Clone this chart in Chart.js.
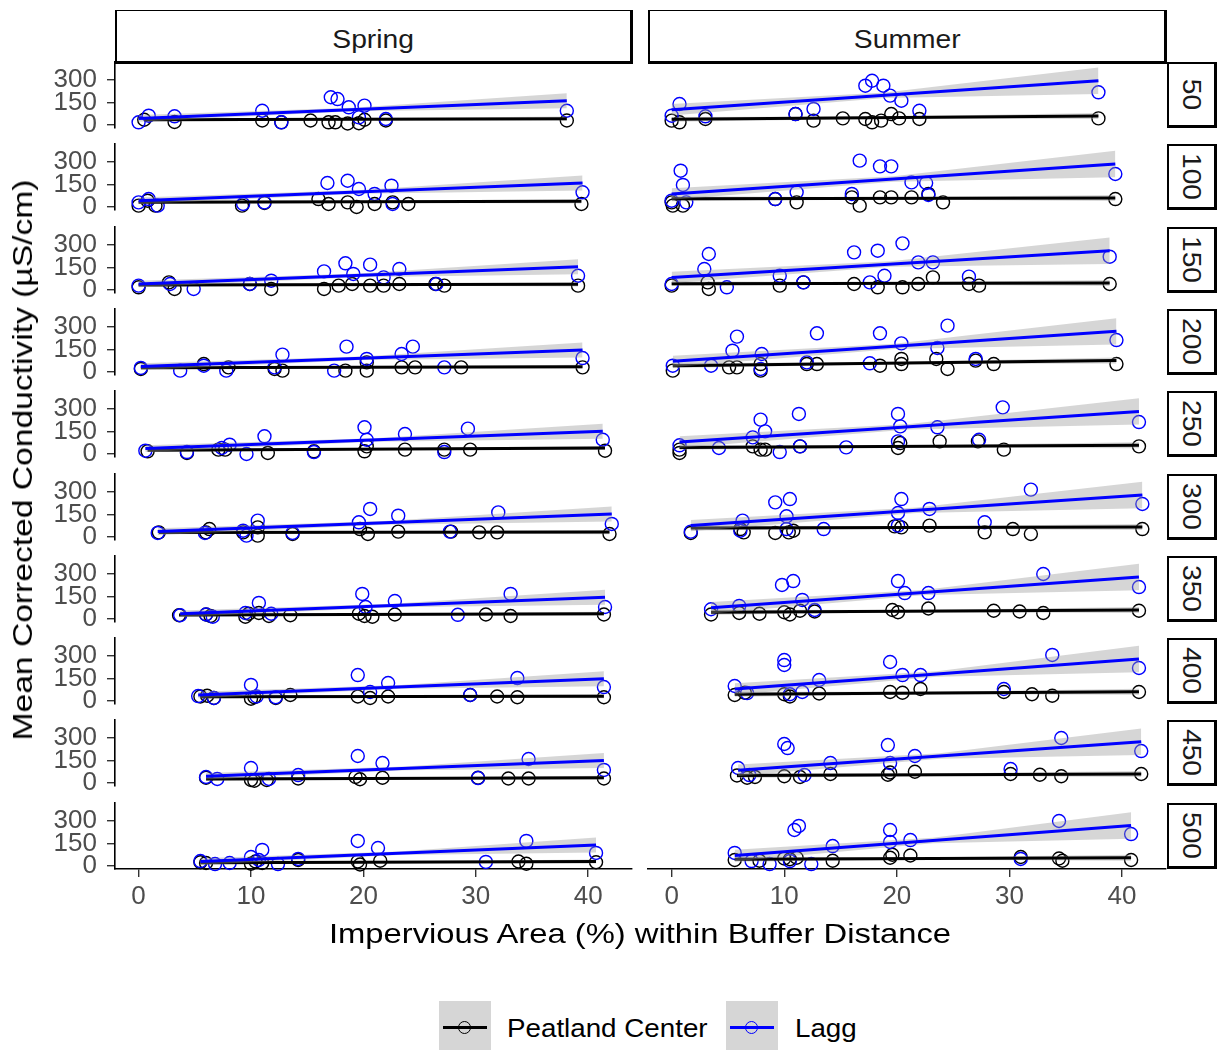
<!DOCTYPE html>
<html>
<head>
<meta charset="utf-8">
<title>Conductivity vs impervious area</title>
<script src="https://cdn.jsdelivr.net/npm/chart.js@4.4.1/dist/chart.umd.min.js"></script>
<style>
  body { margin: 0; background: #fff; }
  #wrap { position: relative; width: 1225px; height: 1050px; overflow: hidden; background: #fff;
          font-family: 'Liberation Sans', Arial, sans-serif; }
  #wrap canvas { position: absolute; }
  .strip { position: absolute; box-sizing: border-box; background: #fff;
           border: 2px solid #000; border-right-width: 3px; border-bottom-width: 3px;
           display: flex; align-items: center; justify-content: center; color: #1a1a1a; font-size: 25px; }
  .strip.top { padding-top: 7px; border-top-width: 1.5px; }
  .strip span { display: inline-block; white-space: nowrap; transform: scaleX(1.13); }
  .strip.side span { transform: rotate(90deg) scaleX(1.13); }
  .title { position: absolute; white-space: nowrap; color: #000; font-size: 28px; }
  .key { position: absolute; width: 52px; height: 52px; background: #d6d6d6; }
  .key .ln { position: absolute; left: 4px; right: 4px; top: 25px; height: 3px; }
  .key .pt { position: absolute; left: 19px; top: 20px; width: 11px; height: 11px; border-radius: 50%;
             border: 1.4px solid; background: transparent; }
  .keytxt { position: absolute; font-size: 25px; color: #000; white-space: nowrap;
            transform-origin: left center; transform: scaleX(1.11); line-height: 30px; }
</style>
</head>
<body>
<div id="wrap"></div>
<script>
const seasons = ['Spring', 'Summer'];
const buffers = ['50', '100', '150', '200', '250', '300', '350', '400', '450', '500'];
const sites = ['Peatland Center', 'Lagg'];
const xTicks = [0, 10, 20, 30, 40];
const yTicks = [0, 150, 300];

// impervious area (%) per buffer distance, one row per buffer
const springCenterX = [
  [0.5, 3.2, 11.0, 12.7, 15.3, 16.9, 17.5, 18.6, 19.6, 20.1, 22.0, 38.1],
  [0, 0.8, 1.5, 9.2, 11.2, 16.0, 16.9, 18.6, 19.4, 21.0, 22.6, 24.0, 39.4],
  [0, 2.7, 3.2, 9.9, 11.8, 16.5, 17.8, 19.0, 20.6, 21.8, 23.2, 26.4, 27.2, 39.1],
  [0.2, 5.8, 8.0, 12.1, 12.8, 18.4, 20.3, 20.3, 23.4, 24.6, 28.7, 39.5],
  [0.8, 4.3, 7.1, 7.7, 11.5, 15.6, 20.1, 20.3, 23.7, 27.2, 29.5, 41.5],
  [1.8, 6.0, 6.3, 9.3, 10.6, 10.6, 13.7, 19.7, 20.4, 23.1, 27.8, 30.3, 31.9, 41.9],
  [3.6, 6.0, 6.4, 9.5, 9.8, 10.7, 11.6, 13.5, 19.6, 20.1, 20.8, 22.8, 30.9, 33.1, 41.4],
  [5.5, 6.1, 6.7, 10.0, 10.3, 12.2, 13.5, 19.5, 20.6, 22.2, 29.5, 31.9, 33.7, 41.4],
  [6.0, 10.0, 10.3, 11.4, 14.2, 19.3, 19.7, 21.7, 30.2, 32.9, 34.7, 41.4],
  [5.5, 6.0, 10.0, 10.4, 11.0, 14.2, 19.5, 19.7, 21.5, 33.8, 34.5, 40.7]
];
const springCenterY = [
  [35, 20, 30, 18, 30, 18, 18, 10, 12, 35, 30, 30],
  [9, 42, 9, 9, 27, 53, 20, 31, 0, 20, 31, 20, 20],
  [18, 51, 7, 40, 7, 7, 29, 40, 29, 29, 40, 40, 29, 29],
  [20, 53, 31, 20, 9, 9, 64, 9, 31, 31, 31, 31],
  [18, 7, 29, 29, 7, 18, 18, 51, 29, 29, 29, 22],
  [31, 31, 53, 31, 9, 64, 20, 53, 20, 36, 36, 31, 31, 20],
  [25, 30, 20, 15, 35, 40, 20, 25, 35, 20, 15, 30, 30, 20, 30],
  [30, 35, 20, 15, 25, 20, 40, 30, 20, 30, 40, 30, 25, 25],
  [35, 20, 15, 20, 30, 40, 25, 35, 35, 30, 30, 30],
  [25, 20, 15, 30, 20, 40, 30, 10, 35, 30, 15, 25]
];
const springLaggX = [
  [0, 0.9, 3.2, 11.0, 12.7, 17.1, 17.7, 18.7, 19.6, 20.1, 22.0, 38.1],
  [0, 0.9, 1.7, 9.3, 11.2, 16.8, 18.6, 19.6, 21.0, 22.5, 22.6, 39.5],
  [0, 2.8, 4.9, 9.9, 11.8, 16.5, 18.4, 19.1, 20.6, 21.8, 23.2, 26.5, 39.1],
  [0.2, 3.7, 5.8, 7.8, 12.1, 12.8, 17.4, 18.5, 20.3, 23.4, 24.4, 27.2, 39.5],
  [0.6, 4.3, 7.4, 8.1, 9.6, 11.2, 15.6, 20.1, 20.3, 23.7, 27.2, 29.3, 41.3],
  [1.7, 5.9, 9.3, 9.6, 10.6, 13.7, 19.6, 20.6, 23.1, 27.7, 32.0, 42.1],
  [3.7, 6.0, 6.6, 9.5, 10.7, 11.8, 19.9, 20.2, 22.8, 28.4, 33.1, 41.5],
  [5.3, 6.7, 10.0, 10.5, 12.2, 19.5, 20.6, 22.2, 29.5, 33.7, 41.4],
  [6.0, 7.0, 10.0, 11.6, 14.2, 19.5, 21.7, 30.2, 34.7, 41.4],
  [5.5, 6.8, 8.1, 10.0, 10.7, 11.0, 12.4, 14.2, 19.5, 21.3, 30.9, 34.5, 40.7]
];
const springLaggY = [
  [18, 62, 58, 95, 18, 185, 173, 118, 51, 129, 40, 95],
  [31, 53, 9, 20, 31, 160, 175, 120, 87, 142, 20, 98],
  [29, 40, 7, 40, 62, 124, 178, 107, 169, 84, 140, 40, 95],
  [27, 9, 42, 9, 31, 116, 9, 169, 87, 120, 169, 31, 93],
  [22, 13, 40, 62, 0, 118, 13, 178, 95, 133, 13, 169, 95],
  [27, 27, 42, 9, 109, 27, 98, 187, 142, 36, 164, 87],
  [25, 30, 15, 40, 107, 35, 167, 80, 120, 28, 167, 80],
  [33, 20, 107, 30, 25, 173, 60, 120, 40, 153, 93],
  [40, 27, 100, 27, 53, 180, 133, 33, 160, 87],
  [33, 13, 20, 60, 40, 107, 13, 47, 167, 120, 27, 167, 87]
];
const summerCenterX = [
  [0, 0.7, 3.0, 11.0, 12.6, 15.2, 17.2, 17.8, 18.6, 19.5, 20.2, 22.0, 37.9],
  [0, 0.1, 1.0, 9.2, 11.1, 16.0, 16.7, 18.5, 19.5, 21.3, 22.8, 24.1, 39.4],
  [0, 3.2, 3.3, 9.6, 11.7, 16.2, 18.3, 20.5, 21.9, 23.2, 26.4, 27.3, 38.9],
  [0.1, 5.1, 5.8, 7.9, 7.9, 12.0, 12.9, 18.5, 20.4, 20.4, 23.5, 24.5, 27.0, 28.6, 39.5],
  [0.7, 0.7, 7.2, 7.9, 8.3, 11.4, 20.1, 20.3, 23.8, 27.2, 29.5, 41.5],
  [1.7, 6.1, 6.4, 9.2, 10.4, 10.8, 19.8, 20.4, 22.9, 27.8, 30.3, 31.9, 41.8],
  [3.5, 6.0, 7.8, 10.0, 10.5, 11.4, 12.7, 19.6, 20.1, 22.8, 28.6, 30.9, 33.0, 41.5],
  [5.6, 6.5, 10.0, 10.5, 13.1, 19.4, 20.5, 22.1, 29.5, 32.0, 33.8, 41.5],
  [5.8, 6.7, 7.4, 10.0, 11.4, 14.1, 19.2, 19.4, 21.6, 30.1, 32.7, 34.6, 41.7],
  [5.6, 7.8, 10.0, 10.5, 11.1, 14.3, 19.4, 19.6, 21.2, 31.0, 34.4, 34.7, 40.8]
];
const summerCenterY = [
  [29, 18, 40, 73, 29, 44, 40, 18, 29, 73, 44, 40, 44],
  [31, 9, 9, 53, 31, 64, 9, 64, 64, 64, 87, 31, 53],
  [29, 51, 7, 29, 51, 40, 18, 18, 40, 84, 40, 29, 40],
  [9, 31, 31, 53, 9, 53, 53, 42, 87, 53, 87, 20, 76, 53, 53],
  [29, 7, 51, 29, 29, 51, 40, 73, 84, 84, 29, 51],
  [27, 53, 31, 27, 31, 42, 71, 64, 76, 31, 53, 20, 53],
  [30, 40, 35, 45, 30, 55, 50, 60, 45, 70, 55, 50, 40, 55],
  [40, 55, 45, 30, 50, 60, 55, 80, 60, 45, 35, 60],
  [50, 35, 40, 45, 40, 60, 55, 70, 75, 60, 55, 45, 60],
  [40, 35, 50, 45, 55, 35, 55, 75, 70, 60, 50, 35, 40]
];
const summerLaggX = [
  [0, 0.7, 3.0, 11.0, 12.6, 17.2, 17.8, 18.8, 19.4, 20.4, 22.0, 37.9],
  [0, 0.8, 1.0, 1.3, 9.2, 11.1, 16.0, 16.7, 18.5, 19.5, 21.3, 22.6, 22.8, 39.4],
  [0, 2.9, 3.3, 4.9, 9.6, 11.7, 16.2, 17.6, 18.3, 18.9, 20.5, 21.9, 23.2, 26.4, 38.9],
  [0.1, 3.5, 5.4, 5.8, 7.9, 8.0, 12.0, 12.9, 17.6, 18.5, 20.4, 23.6, 24.5, 27.0, 39.5],
  [0.7, 4.2, 7.2, 7.9, 8.3, 9.6, 11.3, 11.4, 15.5, 20.1, 20.3, 20.1, 23.6, 27.3, 29.4, 41.5],
  [1.7, 6.3, 6.1, 9.2, 10.5, 10.2, 10.2, 13.5, 20.4, 20.1, 20.1, 22.9, 27.8, 31.9, 41.8],
  [3.5, 6.0, 9.8, 10.8, 11.6, 12.7, 20.1, 20.7, 22.8, 33.0, 41.5],
  [5.6, 6.7, 10.0, 10.0, 10.5, 11.6, 13.1, 19.4, 20.5, 22.1, 29.5, 33.8, 41.5],
  [5.9, 6.9, 10.0, 10.3, 11.8, 14.1, 19.2, 19.4, 21.6, 30.1, 34.6, 41.7],
  [5.6, 7.1, 8.7, 10.5, 10.9, 11.3, 12.4, 14.3, 19.4, 19.4, 21.2, 31.0, 34.4, 40.8]
];
const summerLaggY = [
  [62, 140, 58, 73, 107, 262, 295, 262, 196, 162, 95, 218],
  [42, 242, 147, 31, 53, 98, 87, 309, 271, 271, 164, 160, 80, 220],
  [40, 140, 240, 18, 95, 51, 251, 51, 262, 95, 311, 184, 184, 89, 222],
  [42, 42, 142, 236, 20, 120, 64, 258, 58, 258, 191, 160, 309, 87, 213],
  [58, 40, 111, 229, 151, 13, 267, 51, 44, 267, 184, 84, 178, 95, 311, 213],
  [36, 109, 42, 231, 253, 138, 53, 53, 253, 160, 76, 187, 98, 316, 220],
  [65, 87, 227, 253, 127, 60, 253, 173, 173, 300, 213],
  [100, 53, 273, 240, 45, 60, 140, 260, 173, 173, 80, 307, 220],
  [100, 53, 260, 233, 53, 133, 253, 133, 180, 93, 300, 213],
  [87, 33, 13, 33, 240, 267, 13, 133, 240, 160, 173, 47, 300, 213]
];

// fitted trend: value at the lowest and highest impervious area of each group
const springCenterFit = [[35, 42], [32, 38], [33, 38], [28, 35], [25, 40], [30, 33], [27, 35], [28, 32], [27, 35], [22, 30]];
const springLaggFit = [[44, 162], [42, 160], [40, 155], [36, 147], [36, 151], [36, 153], [35, 145], [40, 148], [45, 150], [30, 140]];
const summerCenterFit = [[38, 60], [55, 60], [42, 46], [42, 76], [44, 58], [60, 66], [45, 60], [45, 62], [50, 60], [45, 55]];
const summerLaggFit = [[102, 295], [87, 287], [84, 262], [71, 271], [80, 284], [76, 280], [75, 280], [80, 280], [85, 275], [70, 270]];

// half width of the confidence band at the start, middle and end of each fit
const springCenterBand = [12, 6, 14];
const springLaggBand = [22, 12, 50];
const summerCenterBand = [16, 8, 20];
const summerLaggBand = [38, 18, 88];

const FONT = "'Liberation Sans', Arial, sans-serif";
const PLOT_TOP = 62, ROW_STEP = 82.3, PLOT_H = 66;
const colLeft = [115, 648], colWidth = [517, 518];
const PAD = 14, Y_AXIS_W = 75, X_AXIS_H = 45;
const BAND = 'rgba(153,153,153,0.4)';

const groups = {
  Spring: [
    { x: springCenterX, y: springCenterY, fit: springCenterFit, band: springCenterBand, color: '#000000' },
    { x: springLaggX, y: springLaggY, fit: springLaggFit, band: springLaggBand, color: '#0000ff' }
  ],
  Summer: [
    { x: summerCenterX, y: summerCenterY, fit: summerCenterFit, band: summerCenterBand, color: '#000000' },
    { x: summerLaggX, y: summerLaggY, fit: summerLaggFit, band: summerLaggBand, color: '#0000ff' }
  ]
};

function points(g, r) {
  return g.x[r].map((x, i) => ({ x: x, y: g.y[r][i] }));
}
function fitLine(g, r) {
  const x0 = Math.min(...g.x[r]), x1 = Math.max(...g.x[r]);
  return [{ x: x0, y: g.fit[r][0] }, { x: x1, y: g.fit[r][1] }];
}
function bandEdge(g, r, sign) {
  const [a, b] = fitLine(g, r);
  const mx = (a.x + b.x) / 2, my = (a.y + b.y) / 2;
  return [
    { x: a.x, y: a.y + sign * g.band[0] },
    { x: mx, y: my + sign * g.band[1] },
    { x: b.x, y: b.y + sign * g.band[2] }
  ];
}

function panelDatasets(season, r) {
  const [center, lagg] = groups[season];
  const line = (g) => ({ data: fitLine(g, r), borderColor: g.color, borderWidth: 3, pointRadius: 0, fill: false });
  const edge = (g, sign, fillTo) => ({ data: bandEdge(g, r, sign), borderWidth: 0, borderColor: 'rgba(0,0,0,0)',
                                       backgroundColor: BAND, pointRadius: 0, fill: fillTo });
  const dots = (g) => ({ data: points(g, r), showLine: false, clip: false, pointRadius: 6.5, pointBorderWidth: 1.4,
                         pointBorderColor: g.color, pointBackgroundColor: 'rgba(0,0,0,0)', borderColor: g.color });
  // index 0 is painted last, so the Lagg fit ends up on top
  return [
    line(lagg), edge(lagg, 1, 2), edge(lagg, -1, false),
    line(center), edge(center, 1, 5), edge(center, -1, false),
    dots(lagg), dots(center)
  ];
}

const wrap = document.getElementById('wrap');

function axisStyle() {
  return {
    border: { display: true, color: '#000', width: 1.6 },
    grid: { drawOnChartArea: false, drawTicks: true, tickLength: 8, color: '#333', lineWidth: 1.4 },
    ticks: { autoSkip: false, maxRotation: 0, color: '#4d4d4d', font: { family: FONT, size: 26 } }
  };
}

seasons.forEach((season, c) => {
  buffers.forEach((buf, r) => {
    const top = Math.round(PLOT_TOP + ROW_STEP * r);
    const showY = c === 0;
    const showX = r === buffers.length - 1;
    const cv = document.createElement('canvas');
    cv.width = colWidth[c] + (showY ? Y_AXIS_W : 0) + 2 * PAD;
    cv.height = PLOT_H + (showX ? X_AXIS_H : 0) + 2 * PAD;
    cv.style.left = (colLeft[c] - (showY ? Y_AXIS_W : 0) - PAD) + 'px';
    cv.style.top = (top - PAD) + 'px';
    wrap.appendChild(cv);

    const xAxis = axisStyle();
    xAxis.ticks.padding = 4;
    const yAxis = axisStyle();
    yAxis.ticks.padding = 10;

    new Chart(cv.getContext('2d'), {
      type: 'line',
      data: { datasets: panelDatasets(season, r) },
      options: {
        responsive: false,
        animation: false,
        events: [],
        layout: { padding: PAD },
        plugins: { legend: { display: false }, tooltip: { enabled: false } },
        scales: {
          x: Object.assign({
            type: 'linear', min: -2.1, max: 43.9, display: showX,
            afterBuildTicks: s => { s.ticks = xTicks.map(v => ({ value: v })); },
            afterFit: s => {
              if (!showX) return;
              s.height = X_AXIS_H; s.paddingLeft = 0; s.paddingRight = 0;
            }
          }, xAxis),
          y: Object.assign({
            type: 'linear', min: -20, max: 420, display: showY,
            afterBuildTicks: s => { s.ticks = yTicks.map(v => ({ value: v })); },
            afterFit: s => {
              if (!showY) return;
              s.width = Y_AXIS_W; s.paddingTop = 0; s.paddingBottom = 0;
            }
          }, yAxis)
        }
      }
    });

    // buffer distance strip on the right
    if (c === 1) {
      const st = document.createElement('div');
      st.className = 'strip side';
      Object.assign(st.style, { left: '1167px', top: top + 'px', width: '50px', height: PLOT_H + 'px' });
      st.innerHTML = '<span>' + buf + '</span>';
      wrap.appendChild(st);
    }
  });

  // season strip on top
  const sp = document.createElement('div');
  sp.className = 'strip top';
  Object.assign(sp.style, { left: colLeft[c] + 'px', top: '10px', width: (colWidth[c] + 1) + 'px', height: '54px' });
  sp.innerHTML = '<span>' + season + '</span>';
  wrap.appendChild(sp);
});

// axis titles
const xt = document.createElement('div');
xt.className = 'title';
xt.textContent = 'Impervious Area (%) within Buffer Distance';
Object.assign(xt.style, { left: '640px', top: '934px', transform: 'translate(-50%,-50%) scaleX(1.17)' });
wrap.appendChild(xt);

const yt = document.createElement('div');
yt.className = 'title';
yt.textContent = 'Mean Corrected Conductivity (\u00b5S/cm)';
Object.assign(yt.style, { left: '23px', top: '460px', transform: 'translate(-50%,-50%) rotate(-90deg) scaleX(1.2)' });
wrap.appendChild(yt);

// legend
const keyLeft = [439, 726], textLeft = [507, 795], keyColor = ['#000000', '#0000ff'];
sites.forEach((name, i) => {
  const k = document.createElement('div');
  k.className = 'key';
  k.style.left = keyLeft[i] + 'px';
  k.style.top = '1001px';
  k.innerHTML = '<div class="ln" style="background:' + keyColor[i] + '"></div>' +
                '<div class="pt" style="border-color:' + keyColor[i] + '"></div>';
  wrap.appendChild(k);
  const t = document.createElement('div');
  t.className = 'keytxt';
  t.textContent = name;
  t.style.left = textLeft[i] + 'px';
  t.style.top = '1013px';
  wrap.appendChild(t);
});
</script>
</body>
</html>
